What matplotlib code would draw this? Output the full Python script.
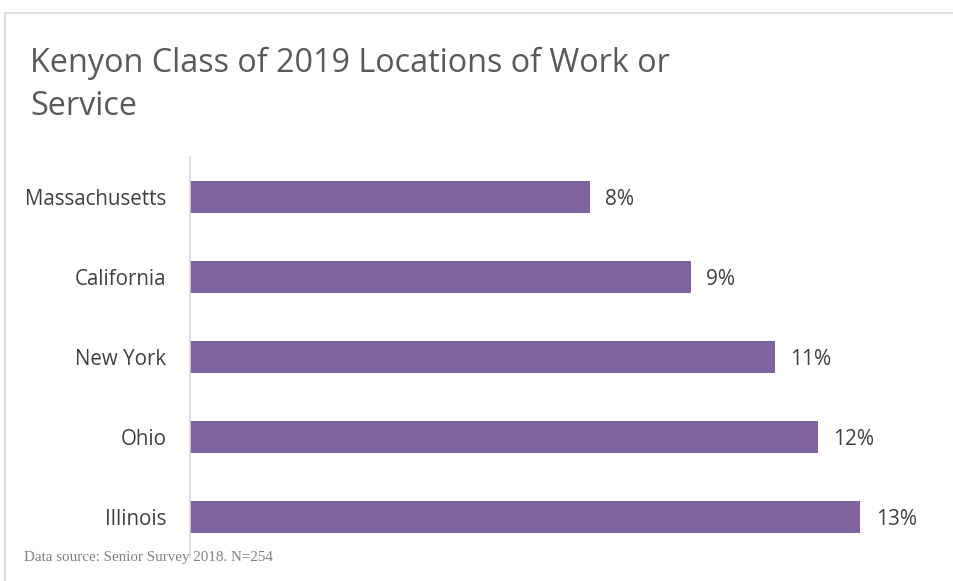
import matplotlib.pyplot as plt
from matplotlib.lines import Line2D

# data
states = ['Massachusetts', 'California', 'New York', 'Ohio', 'Illinois']
pct = [7.52, 9.42, 11.0, 11.8, 12.6]

W, H = 954, 581
fig = plt.figure(figsize=(W / 100, H / 100), dpi=100)
fig.patch.set_facecolor('white')

# outer frame (top and left only)
fig.add_artist(Line2D([5 / W, 1], [1 - 12.5 / H, 1 - 12.5 / H], color='#d9d9d9', lw=1.2))
fig.add_artist(Line2D([5.5 / W, 5.5 / W], [0, 1 - 12.5 / H], color='#d9d9d9', lw=1.2))

ax = fig.add_axes([190 / W, (H - 557) / H, 744.8 / W, 400 / H])
pos = range(len(states))
ax.barh(pos, pct, height=0.4, color='#8064a2')
ax.set_xlim(0, 14)
ax.set_ylim(len(states) - 0.5, -0.5)

for i, v in enumerate(pct):
    ax.annotate(f'{v:.0f}%', (v, i), xytext=(11, -2), textcoords='offset points',
                va='center', ha='left', fontsize=15, color='#404040', family='Open Sans')

ax.set_yticks(list(pos))
ax.set_yticklabels(states, fontsize=14.8, color='#404040', family='Open Sans')
ax.tick_params(axis='y', length=0, pad=17)
ax.set_xticks([])
for s in ['top', 'right', 'bottom']:
    ax.spines[s].set_visible(False)
ax.spines['left'].set_color('#d9d9d9')
ax.spines['left'].set_linewidth(1.2)

fig.text(30 / W, 1 - 115 / H, 'Kenyon Class of 2019 Locations of Work or\nService',
         fontsize=23.3, color='#595959', family='Open Sans', va='baseline',
         linespacing=1.41)
fig.text(24 / W, 1 - 557 / H, 'Data source: Senior Survey 2018. N=254',
         fontsize=10.8, color='#7f7f7f', family='Liberation Serif', va='center')

fig.savefig('out.png', dpi=100)
